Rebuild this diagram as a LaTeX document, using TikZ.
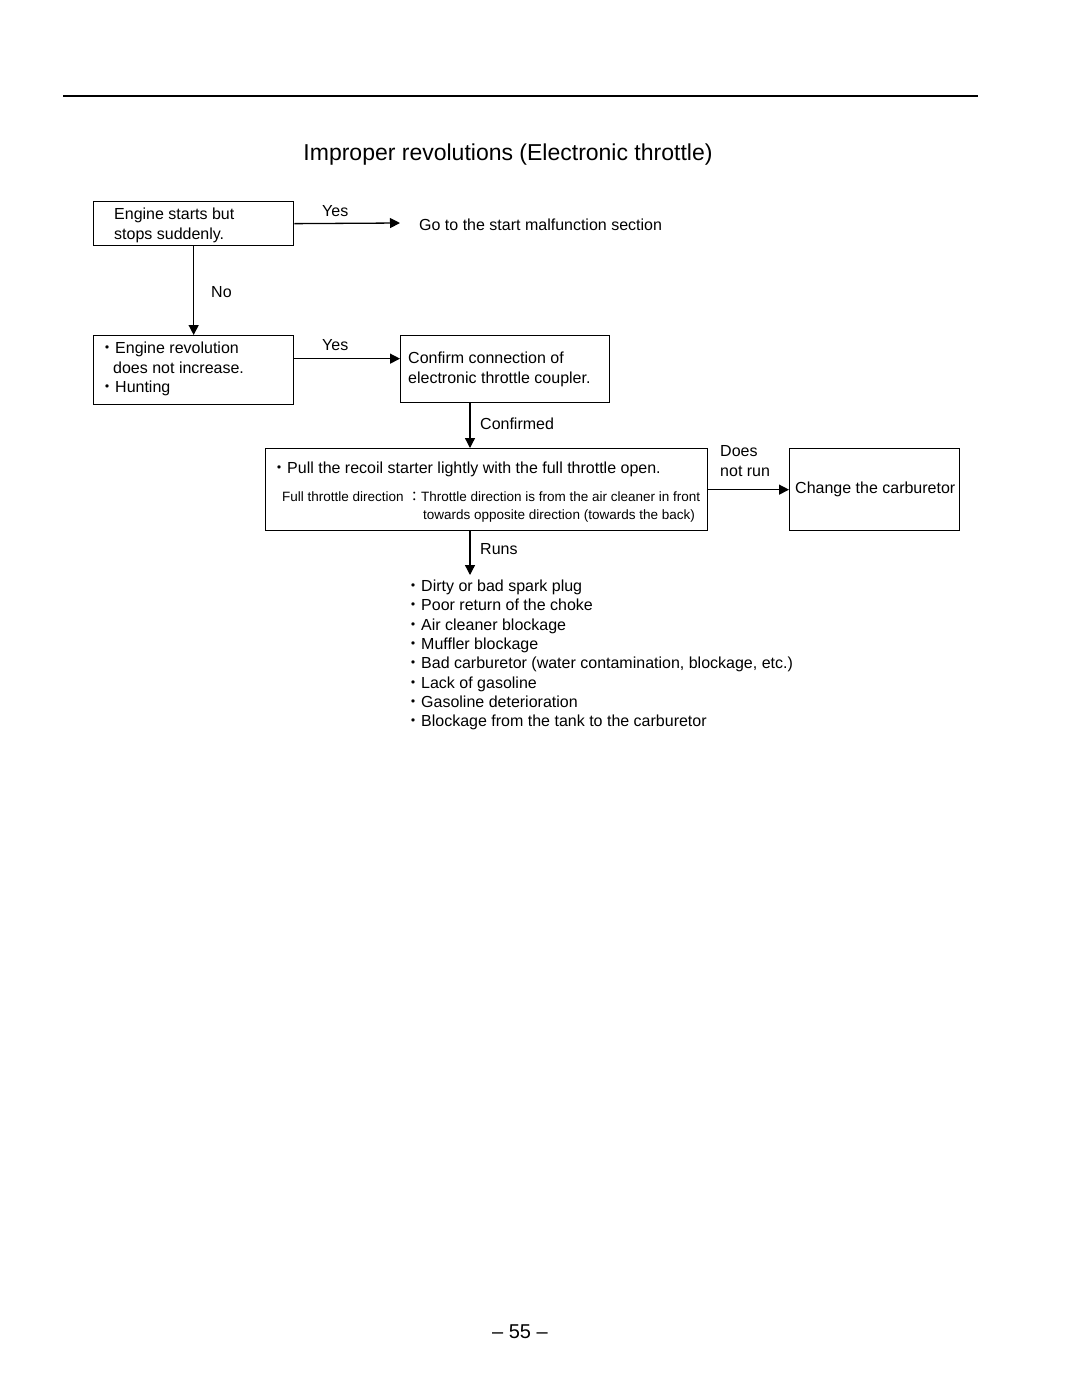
\documentclass[tikz,border=0pt]{standalone}
\usepackage{fontspec}
\setmainfont{Liberation Sans}
\newfontfamily\cjk{Noto Sans CJK JP}
\usetikzlibrary{arrows.meta}
\begin{document}
\begin{tikzpicture}[x=1pt,y=-1pt,
  box/.style={draw, line width=1.3pt, inner sep=0pt, anchor=north west},
  txt/.style={anchor=base west, inner sep=0pt, font=\fontsize{16}{19}\selectfont},
  sml/.style={anchor=base west, inner sep=0pt, font=\fontsize{13.5}{16}\selectfont},
  conn/.style={line width=1.3pt, -{Triangle[length=10pt,width=10pt]}},
  rulestyle/.style={line width=1.3pt}
]
\fill[white] (0,0) rectangle (1080,1397);
\useasboundingbox (0,0) rectangle (1080,1397);

% top rule
\coordinate (rl) at (63,96);
\coordinate (rr) at (978,96);
\draw[rulestyle] (rl) -- (rr);

% title
\node[anchor=base, inner sep=0pt, font=\fontsize{23}{28}\selectfont] (title) at (508,160) {Improper revolutions (Electronic throttle)};

% boxes
\node[box, minimum width=200pt, minimum height=44pt] (b1) at (93,201) {};
\node[box, minimum width=200pt, minimum height=69pt] (b2) at (93,335) {};
\node[box, minimum width=209pt, minimum height=67pt] (b3) at (400,335) {};
\node[box, minimum width=442pt, minimum height=82pt] (b4) at (265,448) {};
\node[box, minimum width=170pt, minimum height=82pt] (b5) at (789,448) {};

% box texts
\node[txt] (t1a) at (114,219.5) {Engine starts but};
\node[txt] (t1b) at (114,239) {stops suddenly.};

\node[txt] (t2a) at (99,353.5) {{\cjk ・}Engine revolution};
\node[txt] (t2b) at (113,373.5) {does not increase.};
\node[txt] (t2c) at (99,392.5) {{\cjk ・}Hunting};

\node[txt] (t3a) at (408,363.5) {Confirm connection of};
\node[txt] (t3b) at (408,383.5) {electronic throttle coupler.};

\node[txt] (t4a) at (271,473.5) {{\cjk ・}Pull the recoil starter lightly with the full throttle open.};
\node[sml] (t4b) at (282,501.5) {Full throttle direction {\cjk ：}Throttle direction is from the air cleaner in front};
\node[sml] (t4c) at (423,519.5) {towards opposite direction (towards the back)};

\node[txt] (t5) at (795,493.5) {Change the carburetor};

% connectors
\coordinate (goend) at (400,223);
\draw[conn] (b1.east) -- (goend);
\node[txt] (yes1) at (322,216.5) {Yes};
\node[txt] (goto) at (419,230.5) {Go to the start malfunction section};

\draw[conn] (b1.south) -- (b2.north);
\node[txt] (no) at (211,297.5) {No};

\draw[conn] ([yshift=11.5pt]b2.east) -- ([yshift=10.5pt]b3.west);
\node[txt] (yes2) at (322,350.5) {Yes};

\coordinate (vx) at (470,0);
\draw[conn] (b3.south -| vx) -- (b4.north -| vx);
\node[txt] (conf) at (480,429.5) {Confirmed};

\draw[conn] (b4.east) -- (b5.west);
\node[txt] (does) at (720,456.5) {Does};
\node[txt] (notrun) at (720,476.5) {not run};

\coordinate (runsend) at (470,575);
\draw[conn] (b4.south -| vx) -- (runsend);
\node[txt] (runs) at (480,554.5) {Runs};

% list of causes
\node[txt] (l1) at (405,591.5) {{\cjk ・}Dirty or bad spark plug};
\node[txt] (l2) at (405,610.8) {{\cjk ・}Poor return of the choke};
\node[txt] (l3) at (405,630.1) {{\cjk ・}Air cleaner blockage};
\node[txt] (l4) at (405,649.4) {{\cjk ・}Muffler blockage};
\node[txt] (l5) at (405,668.7) {{\cjk ・}Bad carburetor (water contamination, blockage, etc.)};
\node[txt] (l6) at (405,688.0) {{\cjk ・}Lack of gasoline};
\node[txt] (l7) at (405,707.3) {{\cjk ・}Gasoline deterioration};
\node[txt] (l8) at (405,726.6) {{\cjk ・}Blockage from the tank to the carburetor};

% page number
\node[anchor=base, inner sep=0pt, font=\fontsize{20}{24}\selectfont] (page) at (520,1338) {-- 55 --};
\end{tikzpicture}
\end{document}
